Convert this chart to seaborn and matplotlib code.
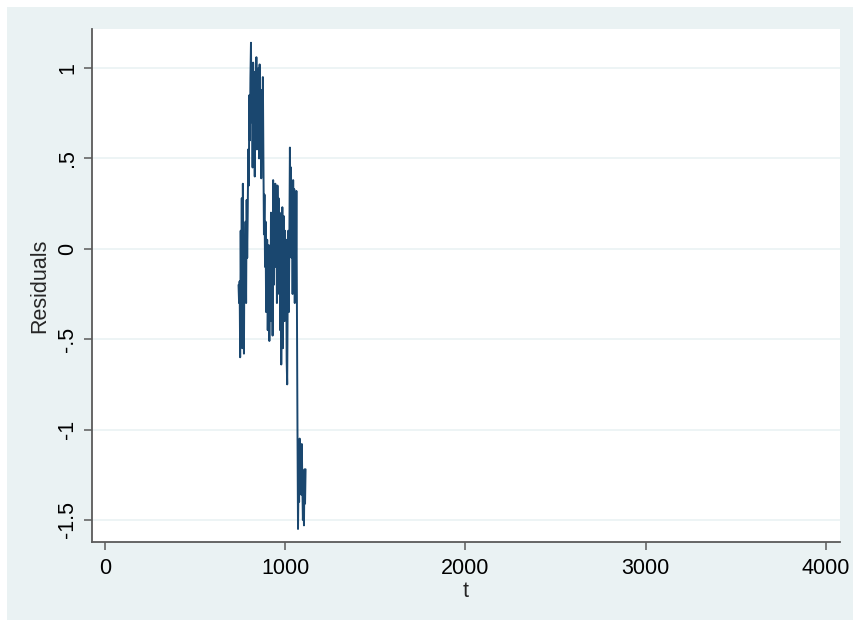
import numpy as np
import pandas as pd
import matplotlib
matplotlib.use("Agg")
import matplotlib.pyplot as plt
from matplotlib.patches import Rectangle
import seaborn as sns

t = list(range(741, 1114, 3))
residuals = [
    # 741-789
    -0.20, -0.30, -0.18, -0.60, 0.10, -0.35, 0.28, -0.55, 0.36, -0.10,
    -0.58, 0.05, -0.25, 0.15, -0.30, 0.27, -0.05,
    # 792-810
    0.20, 0.55, 0.35, 0.85, 0.60, 0.95, 1.14,
    # 813-879
    0.70, 0.95, 0.45, 1.03, 0.62, 0.85, 0.40, 0.98, 0.70, 1.06,
    0.55, 0.90, 0.75, 1.00, 0.50, 1.02, 0.65, 0.88, 0.39, 0.80,
    0.60, 0.95, 0.50,
    # 882-894
    0.08, 0.30, -0.10, 0.15, -0.35,
    # 897-933
    -0.20, 0.05, -0.45, -0.15, 0.02, -0.51, -0.05, -0.40, 0.20, -0.30,
    0.10, -0.48, 0.38,
    # 936-966
    -0.20, 0.30, 0.05, 0.36, -0.10, 0.15, -0.30, 0.35, 0.00, 0.28, -0.25,
    # 969-1011
    0.20, -0.45, 0.10, -0.64, -0.20, 0.23, -0.55, -0.05, 0.18, -0.40,
    0.10, -0.30, 0.05, -0.62, -0.75,
    # 1014-1062
    -0.20, 0.10, -0.35, 0.05, 0.56, 0.20, 0.45, -0.05, 0.30, -0.25,
    0.38, 0.00, 0.33, -0.30, 0.10, -0.20, 0.32,
    # 1065-1113
    -0.33, -1.00, -1.55, -1.25, -1.40, -1.05, -1.30, -1.10, -1.36, -1.08,
    -1.30, -1.50, -1.38, -1.53, -1.22, -1.41, -1.22,
]

x_ticks = [0, 1000, 2000, 3000, 4000]
y_ticks = [1, 0.5, 0, -0.5, -1, -1.5]
y_tick_labels = ["1", ".5", "0", "-.5", "-1", "-1.5"]

df = pd.DataFrame({"t": t, "Residuals": residuals})

sns.set_style("white")
plt.rcParams["font.family"] = ["Liberation Sans", "DejaVu Sans"]

W, H = 854, 621
fig = plt.figure(figsize=(W / 100, H / 100), dpi=100, facecolor="white")
bg = "#EAF2F3"
fig.patches.append(Rectangle((7 / W, 1 / H), (W - 7) / W, (H - 8) / H,
                             transform=fig.transFigure, facecolor=bg,
                             edgecolor="none", zorder=-10))

left, right, top, bottom = 92, 840, 29, 542
ax = fig.add_axes([left / W, 1 - bottom / H, (right - left) / W, (bottom - top) / H])
ax.set_zorder(5)
ax.set_facecolor("white")

sns.lineplot(data=df, x="t", y="Residuals", ax=ax, color="#1a476f",
             linewidth=1.4, estimator=None, sort=False)

ax.set_xlim(-72, 4078)
ax.set_ylim(-1.622, 1.216)
ax.set_xticks(x_ticks)
ax.set_xticklabels([str(v) for v in x_ticks])
ax.set_yticks(y_ticks)
ax.set_yticklabels(y_tick_labels, rotation=90, va="center")

ax.yaxis.grid(True, color="#EAF2F3", linewidth=1.2)
ax.xaxis.grid(False)
ax.set_axisbelow(True)

for s in ["top", "right"]:
    ax.spines[s].set_visible(False)
for s in ["left", "bottom"]:
    ax.spines[s].set_color("#5a5a5a")
    ax.spines[s].set_linewidth(1.3)

ax.tick_params(axis="both", which="both", length=5.8, width=1.1, color="#5a5a5a",
               labelsize=15.5, labelcolor="black", direction="out",
               left=True, bottom=True)
ax.tick_params(axis="x", pad=5.5)
ax.tick_params(axis="y", pad=4)

ax.set_xlabel("t", fontsize=15.5, labelpad=1.5)
ax.set_ylabel("Residuals", fontsize=15.5, labelpad=5)

fig.savefig("out.png", dpi=100, facecolor=fig.get_facecolor())
